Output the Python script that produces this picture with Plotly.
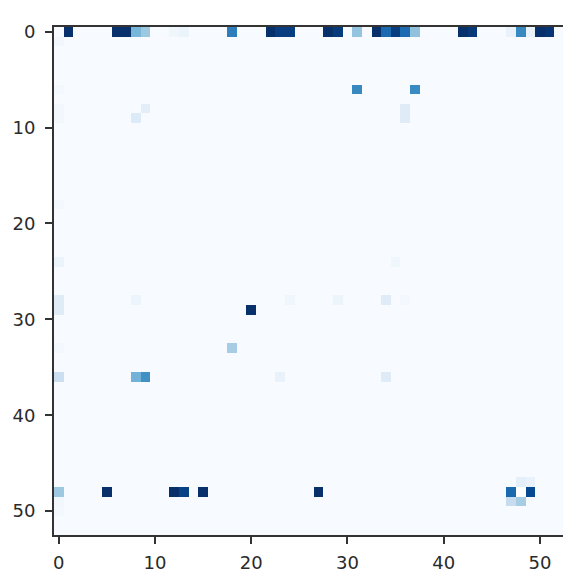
import numpy as np
import plotly.graph_objects as go

n = 53

# non-zero cells of the matrix: row, column, value (0..1)
cell_rows = [0, 0, 0, 0, 0, 0, 0, 0, 0, 0, 0, 0, 0, 0, 0, 0, 0, 0, 0, 0, 0, 0, 0, 0, 0, 0,
             1, 6, 6, 6, 8, 8, 9, 9, 8, 9, 18,
             24, 24, 28, 28, 28, 28, 28, 28, 29, 29, 33, 33,
             36, 36, 36, 36, 36, 47, 47,
             48, 48, 48, 48, 48, 48, 48, 48, 49, 49, 49, 50]
cell_cols = [1, 6, 7, 8, 9, 12, 13, 18, 22, 23, 24, 28, 29, 31, 33, 34, 35, 36, 37, 42, 43, 47, 48, 49, 50, 51,
             0, 0, 31, 37, 0, 9, 0, 8, 36, 36, 0,
             0, 35, 0, 8, 24, 29, 34, 36, 0, 20, 0, 18,
             0, 8, 9, 23, 34, 48, 49,
             0, 5, 12, 13, 15, 27, 47, 49, 0, 47, 48, 0]
cell_vals = [1.0, 1.0, 1.0, 0.47, 0.38, 0.04, 0.06, 0.7, 1.0, 0.95, 0.95, 1.0, 0.96, 0.4, 1.0, 0.78, 0.95, 0.77, 0.41, 1.0, 0.97, 0.07, 0.66, 0.07, 1.0, 0.98,
             0.03, 0.02, 0.66, 0.65, 0.03, 0.1, 0.03, 0.13, 0.12, 0.12, 0.02,
             0.06, 0.04, 0.12, 0.05, 0.04, 0.05, 0.12, 0.02, 0.12, 1.0, 0.02, 0.35,
             0.22, 0.48, 0.63, 0.07, 0.12, 0.09, 0.07,
             0.38, 1.0, 1.0, 0.93, 1.0, 1.0, 0.78, 0.9, 0.03, 0.24, 0.35, 0.02]
# cells left empty (NaN)
nan_rows = [48]
nan_cols = [48]

tick_vals = [0, 10, 20, 30, 40, 50]

z = np.zeros((n, n))
z[cell_rows, cell_cols] = cell_vals
z[nan_rows, nan_cols] = np.nan

blues = ["#f7fbff", "#deebf7", "#c6dbef", "#9ecae1", "#6baed6",
         "#4292c6", "#2171b5", "#08519c", "#08306b"]
scale = [[i / (len(blues) - 1), c] for i, c in enumerate(blues)]

fig = go.Figure()
fig.add_trace(go.Heatmap(z=z, x=list(range(n)), y=list(range(n)), colorscale=scale,
                         zmin=0, zmax=1, showscale=False, hoverongaps=False))

axis_style = dict(showgrid=False, zeroline=False, showline=True, linecolor="#333333", linewidth=2,
                  mirror=True, ticks="outside", ticklen=7, tickwidth=2, tickcolor="#333333",
                  tickvals=tick_vals, automargin=False,
                  tickfont=dict(family="DejaVu Sans", size=18, color="#2a2a2a"))
fig.update_xaxes(range=[-0.5, n - 0.5], ticklabelstandoff=3, **axis_style)
fig.update_yaxes(range=[n - 0.5, -0.5], ticklabelstandoff=6, **axis_style)

fig.update_layout(width=571, height=573, margin=dict(l=46, r=15, t=19, b=46),
                  paper_bgcolor="white", plot_bgcolor="white")

fig.write_html("out.html")
